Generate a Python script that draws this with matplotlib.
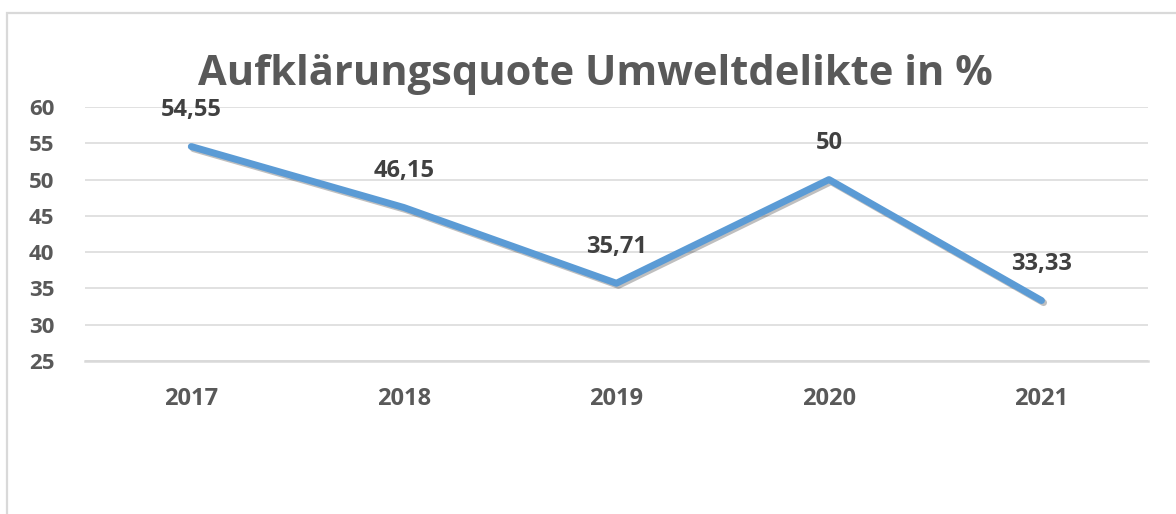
import matplotlib
matplotlib.use("Agg")
import matplotlib.pyplot as plt
import matplotlib.patheffects as pe
from matplotlib.patches import Rectangle

years = ["2017", "2018", "2019", "2020", "2021"]
quote = [54.55, 46.15, 35.71, 50, 33.33]
labels = ["54,55", "46,15", "35,71", "50", "33,33"]
yticks = [25, 30, 35, 40, 45, 50, 55, 60]

grey = "#595959"
blue = "#5B9BD5"

plt.rcParams["font.family"] = ["Open Sans", "DejaVu Sans"]

fig = plt.figure(figsize=(11.76, 5.14), dpi=100)
ax = fig.add_axes([0.0723, 0.2977, 0.9037, 0.4941])

# chart border (only top and left visible in the picture)
fig.patches.append(Rectangle((7 / 1176, -0.1), 1.2, 1 - 13 / 514 + 0.1,
                             transform=fig.transFigure, fill=False,
                             edgecolor="#D9D9D9", linewidth=1.6))

x = list(range(len(years)))
ax.plot(x, quote, color=blue, linewidth=5, solid_capstyle="round",
        path_effects=[pe.SimpleLineShadow(offset=(1.5, -1.5), alpha=0.25),
                      pe.Normal()], zorder=3)

for xi, v, lab in zip(x, quote, labels):
    ax.annotate(lab, (xi, v), xytext=(0, 26), textcoords="offset points",
                ha="center", va="center", fontsize=17, fontweight="bold",
                color="#404040", zorder=4)

ax.set_xlim(-0.5, len(years) - 0.5)
ax.set_ylim(25, 60)
ax.set_yticks(yticks)
ax.set_xticks(x)
ax.set_xticklabels(years)
ax.grid(axis="y", color="#D9D9D9", linewidth=1.1)
ax.set_axisbelow(True)
for s in ["top", "right", "left"]:
    ax.spines[s].set_visible(False)
ax.spines["bottom"].set_color("#D9D9D9")
ax.spines["bottom"].set_linewidth(1.8)
ax.tick_params(length=0)
ax.tick_params(axis="y", pad=22, labelsize=16, labelcolor=grey)
ax.tick_params(axis="x", pad=19, labelsize=17, labelcolor=grey)
for t in ax.get_xticklabels() + ax.get_yticklabels():
    t.set_fontweight("bold")

fig.text(0.506, 0.855, "Aufklärungsquote Umweltdelikte in %", ha="center",
         va="center", fontsize=30, fontweight="bold", color=grey)

fig.savefig("out.png", dpi=100)
